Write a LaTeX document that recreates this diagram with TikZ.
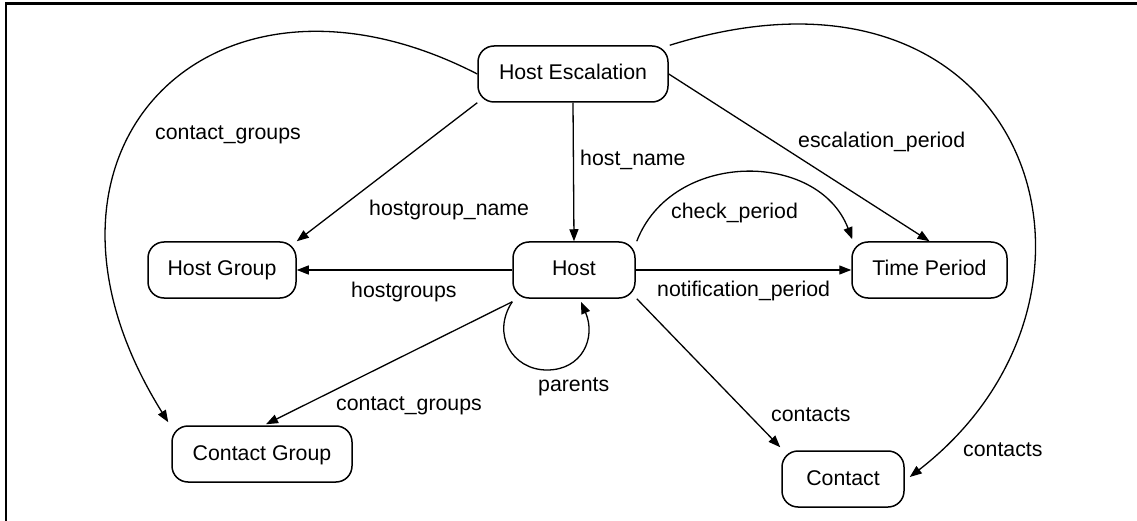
\documentclass[tikz,border=0pt]{standalone}
\usepackage{fontspec}
\setmainfont{Liberation Sans}
\usetikzlibrary{arrows.meta}
\begin{document}
\begin{tikzpicture}[x=1pt,y=-1pt,
  every node/.style={font=\fontsize{21.3}{25.6}\selectfont},
  obj/.style={draw, line width=1.5pt, rounded corners=16pt, inner sep=0pt,
    minimum height=56pt, text height=12pt, text depth=0pt},
  lbl/.style={inner sep=0pt, anchor=base west},
  rel/.style={line width=1.3pt, -{Triangle[length=12pt,width=9pt]}}
]
\useasboundingbox (0,0) rectangle (1137,521);
% frame
\draw[line width=2.6pt, line join=miter] (6,521) -- (6,3.7) -- (1137,3.7);

% objects
\node[obj, minimum width=190pt] (he)  at (573,74)    {Host Escalation};
\node[obj, minimum width=148pt] (hg)  at (222,270)   {Host Group};
\node[obj, minimum width=122pt] (h)   at (574,270)   {Host};
\node[obj, minimum width=155pt] (tp)  at (929.5,270) {Time Period};
\node[obj, minimum width=180pt] (cg)  at (262,454)   {Contact Group};
\node[obj, minimum width=122pt] (ct)  at (843,479)   {Contact};

% relations from the escalation
\draw[rel] (he.south west) -- (hg.north east);
\draw[rel] (he.south) -- (h.north);
\draw[rel] (he.east) -- (tp.north);
\draw[rel] (he.west) .. controls (211,-63) and (-1,151) .. ([xshift=-3pt,yshift=3pt]cg.north west);
\draw[rel] ([xshift=1pt]he.north east) .. controls (1030,-67) and (1146,294) .. ([xshift=5pt,yshift=2pt]ct.east);

% relations from the host
\draw[rel] (h.west) -- (hg.east);
\draw[rel] (h.east) -- (tp.west);
\draw[rel] ([xshift=1pt]h.north east) .. controls (672,150) and (818,150) .. ([xshift=1pt,yshift=2pt]tp.north west);
\draw[rel] ([yshift=-3pt]h.south west) -- ([xshift=4pt,yshift=1pt]cg.north);
\draw[rel] ([xshift=1pt]h.south east) -- ([xshift=-1pt,yshift=3pt]ct.north west);
\coordinate (lb) at (547,370);
\draw[rel] ([yshift=-3pt]h.south west) .. controls (491,334) and (512,370) .. (lb)
  .. controls (582,370) and (596.4,338) .. ([xshift=7pt,yshift=-3pt]h.south);

% labels
\node[lbl] (l1)  at (155,139.3) {contact\_groups};
\node[lbl] (l2)  at (369,216)   {hostgroup\_name};
\node[lbl] (l3)  at (580,165.7) {host\_name};
\node[lbl] (l4)  at (798,147.7) {escalation\_period};
\node[lbl] (l5)  at (671,218.3) {check\_period};
\node[lbl] (l6)  at (351,297.7) {hostgroups};
\node[lbl] (l7)  at (657,296)   {notification\_period};
\node[lbl] (l8)  at (538,391)   {parents};
\node[lbl] (l9)  at (336,410.7) {contact\_groups};
\node[lbl] (l10) at (771,421.7) {contacts};
\node[lbl] (l11) at (963,456.7) {contacts};
\end{tikzpicture}
\end{document}
